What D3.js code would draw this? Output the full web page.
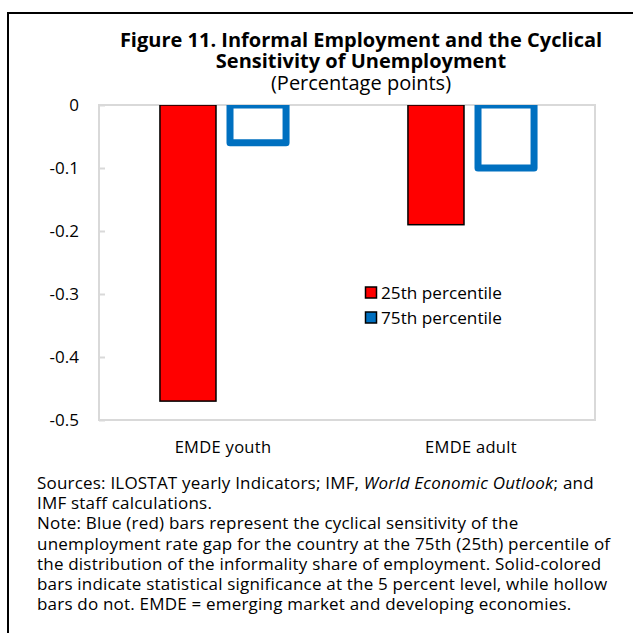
<!DOCTYPE html>
<html>
<head>
<meta charset="utf-8">
<script src="https://cdn.jsdelivr.net/npm/d3@7"></script>
<style>
  body { margin: 0; background: #fff; }
  svg { display: block; font-family: "Open Sans", "Noto Sans", sans-serif; }
</style>
</head>
<body>
<script>
// chart data
const categories = ["EMDE youth", "EMDE adult"];
const seriesNames = ["25th percentile", "75th percentile"];
const p25 = [-0.47, -0.19];
const p75 = [-0.06, -0.10];
const yTicks = [0, -0.1, -0.2, -0.3, -0.4, -0.5];
const yTickLabels = ["0", "-0.1", "-0.2", "-0.3", "-0.4", "-0.5"];

const titleLines = ["Figure 11. Informal Employment and the Cyclical", "Sensitivity of Unemployment"];
const subtitle = "(Percentage points)";
const notes = [
  [["Sources: ILOSTAT yearly Indicators; IMF, ", false], ["World Economic Outlook", true], ["; and", false]],
  [["IMF staff calculations.", false]],
  [["Note: Blue (red) bars represent the cyclical sensitivity of the", false]],
  [["unemployment rate gap for the country at the 75th (25th) percentile of", false]],
  [["the distribution of the informality share of employment. Solid-colored", false]],
  [["bars indicate statistical significance at the 5 percent level, while hollow", false]],
  [["bars do not. EMDE = emerging market and developing economies.", false]]
];

const width = 633, height = 633;
const plot = { left: 99, right: 595, top: 105, bottom: 420 };

const svg = d3.select("body").append("svg")
  .attr("width", width)
  .attr("height", height);

// frame (top + left only)
svg.append("path")
  .attr("d", `M8,633 L8,13 L633,13`)
  .attr("fill", "none")
  .attr("stroke", "#000")
  .attr("stroke-width", 2);

// title
svg.append("g").selectAll("text")
  .data(titleLines)
  .join("text")
  .attr("x", 361)
  .attr("y", (d, i) => 47 + i * 20.5)
  .attr("text-anchor", "middle")
  .attr("font-weight", "bold")
  .attr("font-size", 20)
  .attr("fill", "#000")
  .text(d => d);
svg.append("text")
  .attr("x", 361)
  .attr("y", 90)
  .attr("text-anchor", "middle")
  .attr("font-size", 20)
  .text(subtitle);

// scales
var x0 = d3.scaleBand().domain(categories).range([plot.left, plot.right]);
var x1 = d3.scaleBand().domain(seriesNames).range([0, x0.bandwidth()])
  .paddingInner(0.2).paddingOuter(0.87);
var y = d3.scaleLinear().domain([0, -0.5]).range([plot.top, plot.bottom]);

// plot area border
svg.append("rect")
  .attr("x", plot.left)
  .attr("y", plot.top)
  .attr("width", plot.right - plot.left)
  .attr("height", plot.bottom - plot.top)
  .attr("fill", "none")
  .attr("stroke", "#d9d9d9")
  .attr("stroke-width", 2);

// y axis: inner ticks + labels
var yAxis = svg.append("g")
  .attr("transform", `translate(${plot.left},0)`)
  .call(d3.axisRight(y).tickValues(yTicks).tickSize(6).tickFormat(""));
yAxis.select(".domain").remove();
yAxis.selectAll("line").attr("stroke", "#d9d9d9").attr("stroke-width", 2);

svg.append("g").selectAll("text")
  .data(yTicks)
  .join("text")
  .attr("x", 79)
  .attr("y", d => y(d))
  .attr("dy", "0.35em")
  .attr("text-anchor", "end")
  .attr("font-size", 17)
  .text((d, i) => yTickLabels[i]);

// x labels
svg.append("g").selectAll("text")
  .data(categories)
  .join("text")
  .attr("x", d => x0(d) + x0.bandwidth() / 2)
  .attr("y", 453)
  .attr("text-anchor", "middle")
  .attr("font-size", 16.5)
  .attr("letter-spacing", 0.3)
  .text(d => d);

// clip for bars
svg.append("clipPath").attr("id", "plotclip")
  .append("rect")
  .attr("x", plot.left).attr("y", plot.top)
  .attr("width", plot.right - plot.left).attr("height", plot.bottom - plot.top);

var bars = svg.append("g").attr("clip-path", "url(#plotclip)");

// 25th percentile: solid red
bars.selectAll(".p25")
  .data(categories)
  .join("rect")
  .attr("class", "p25")
  .attr("x", d => x0(d) + x1(seriesNames[0]))
  .attr("y", y(0))
  .attr("width", x1.bandwidth())
  .attr("height", (d, i) => y(p25[i]) - y(0))
  .attr("fill", "#ff0000")
  .attr("stroke", "#000")
  .attr("stroke-width", 1.5);

// 75th percentile: hollow blue
bars.selectAll(".p75")
  .data(categories)
  .join("rect")
  .attr("class", "p75")
  .attr("x", d => x0(d) + x1(seriesNames[1]))
  .attr("y", y(0))
  .attr("width", x1.bandwidth())
  .attr("height", (d, i) => y(p75[i]) - y(0))
  .attr("fill", "#fff")
  .attr("stroke", "#0070c0")
  .attr("stroke-width", 7)
  .attr("stroke-linejoin", "round");

// legend
var legendColors = ["#ff0000", "#0070c0"];
var legend = svg.append("g").selectAll("g")
  .data(seriesNames)
  .join("g")
  .attr("transform", (d, i) => `translate(365.5,${287 + i * 25})`);
legend.append("rect")
  .attr("width", 11)
  .attr("height", 11)
  .attr("fill", (d, i) => legendColors[i])
  .attr("stroke", "#000")
  .attr("stroke-width", 1.5);
legend.append("text")
  .attr("x", 15.5)
  .attr("y", 11.5)
  .attr("font-size", 17.2)
  .text(d => d);

// footnotes
var noteText = svg.append("g").selectAll("text")
  .data(notes)
  .join("text")
  .attr("x", 37)
  .attr("y", (d, i) => 489 + i * 20.2)
  .attr("font-size", 17)
  .attr("letter-spacing", 0.2);
noteText.selectAll("tspan")
  .data(d => d)
  .join("tspan")
  .attr("font-style", d => d[1] ? "italic" : null)
  .text(d => d[0]);
</script>
</body>
</html>
